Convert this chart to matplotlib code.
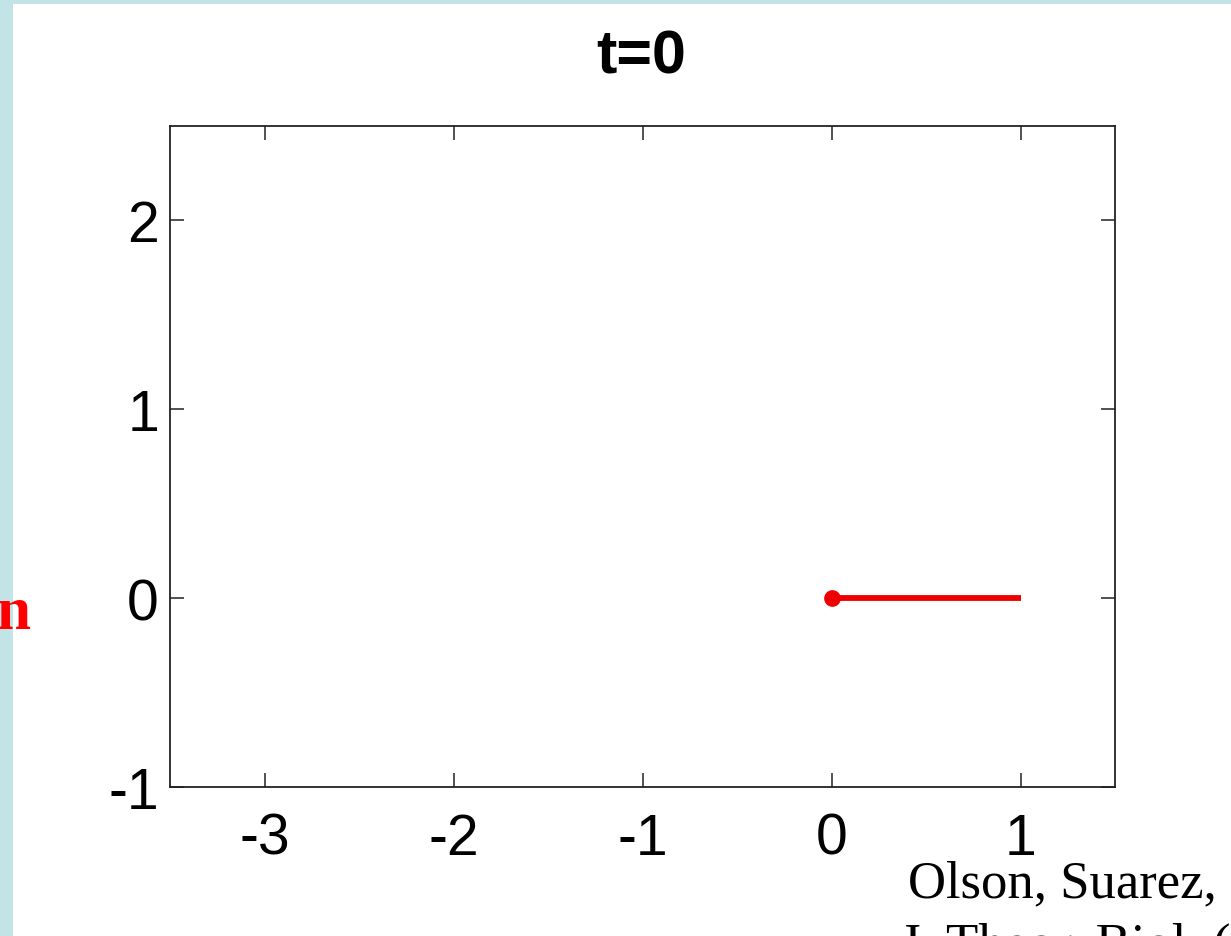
import matplotlib
matplotlib.use("Agg")
import matplotlib.pyplot as plt
from matplotlib.patches import Rectangle

# rod position at t=0: anchored at the origin, free end at x=1
rod_x = [0, 1]
rod_y = [0, 0]
anchor_x = [0]
anchor_y = [0]

xticks = [-3, -2, -1, 0, 1]
yticks = [-1, 0, 1, 2]

plt.rcParams['font.family'] = ['Liberation Sans', 'DejaVu Sans']
plt.rcParams['axes.unicode_minus'] = False

fig = plt.figure(figsize=(12.31, 9.37), dpi=100)
fig.patch.set_facecolor('white')
# light blue slide border along the left and top edges
border = '#c2e4e6'
fig.patches.append(Rectangle((0, 0), 13 / 1231, 1, transform=fig.transFigure,
                             facecolor=border, edgecolor='none', zorder=-5))
fig.patches.append(Rectangle((0, 1 - 5 / 937), 1, 5 / 937, transform=fig.transFigure,
                             facecolor=border, edgecolor='none', zorder=-5))

ax = fig.add_axes([170 / 1231, 1 - 788 / 937, 945 / 1231, 661 / 937])
ax.plot(rod_x, rod_y, color='#ee0000', lw=4.2, solid_capstyle='butt')
ax.plot(anchor_x, anchor_y, 'o', color='#ee0000', ms=11)

ax.set_xlim(-3.5, 1.5)
ax.set_ylim(-1, 2.5)
ax.set_xticks(xticks)
ax.set_yticks(yticks)
ax.tick_params(direction='in', top=True, right=True, length=10, width=1.2,
               color='#333333', labelsize=41)
ax.tick_params(axis='x', pad=18)
ax.tick_params(axis='y', pad=8)
for s in ax.spines.values():
    s.set_linewidth(1.3)
    s.set_color('#222222')

fig.text(641 / 1231, 1 - 58 / 937, 't=0', ha='center', va='center',
         fontsize=44, fontweight='bold')

# cut-off red caption on the left margin
fig.text(30 / 1231, 1 - 614 / 937, 'n', ha='right', va='center', color='red',
         fontsize=44, fontweight='bold', family='Liberation Serif')

# citation in the lower right corner
fig.text(908 / 1231, 1 - 897 / 937, 'Olson, Suarez,', ha='left', va='baseline',
         fontsize=38, family='Liberation Serif')
fig.text(900 / 1231, 1 - 960 / 937, 'J. Theor. Biol. (', ha='left', va='baseline',
         fontsize=38, family='Liberation Serif')

fig.savefig('out.png', dpi=100)
